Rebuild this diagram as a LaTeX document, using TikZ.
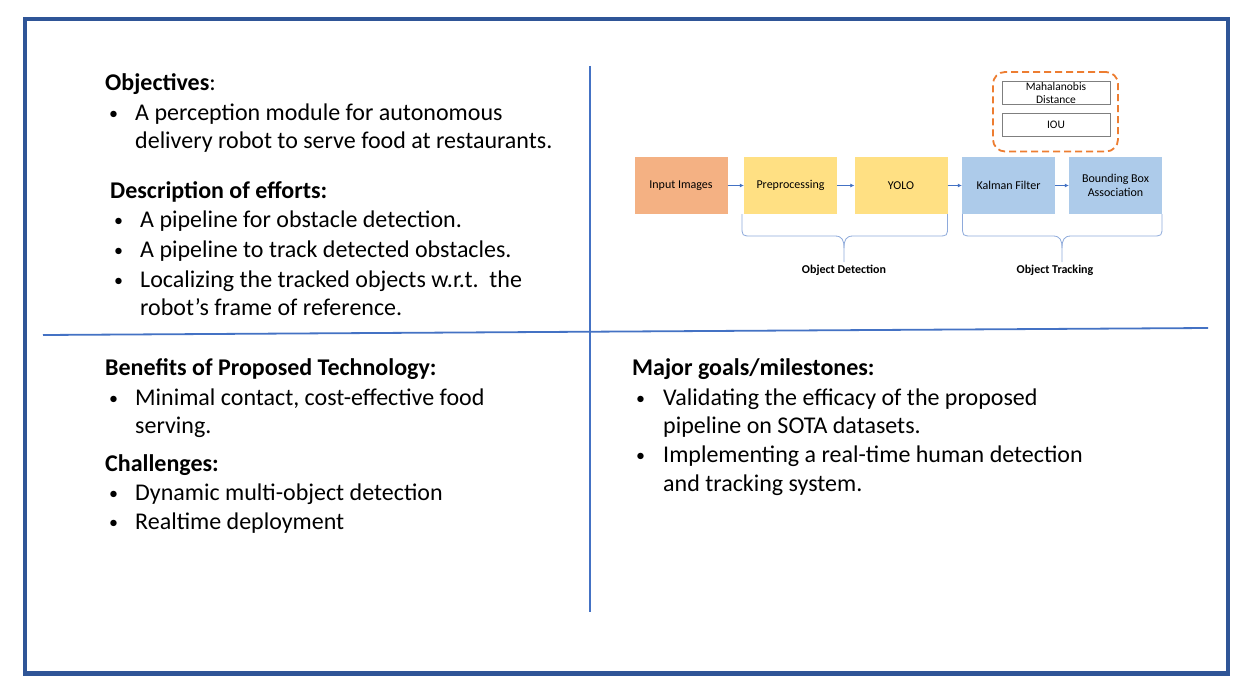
\documentclass[tikz,border=0pt]{standalone}
\usepackage{fontspec}
\setmainfont{Carlito}
\usetikzlibrary{arrows.meta}
\definecolor{frameblue}{HTML}{2F5597}
\definecolor{lineblue}{HTML}{4472C4}
\definecolor{orangefill}{HTML}{F4B183}
\definecolor{yellowfill}{HTML}{FFE083}
\definecolor{bluefill}{HTML}{ADCBEA}
\definecolor{dashorange}{HTML}{ED7D31}
\definecolor{bracecol}{HTML}{8EAADB}
\definecolor{boxgray}{HTML}{7F7F7F}
\newcommand\mybrace[3]{%
  \draw[bracestyle] (#1,214) -- (#1,226) .. controls (#1,236) .. (#1+10,236)
     -- (#3-9,236) .. controls (#3-2,236) and (#3,240) .. (#3,248) -- (#3,262);
  \draw[bracestyle] (#2,214) -- (#2,226) .. controls (#2,236) .. (#2-10,236)
     -- (#3+9,236) .. controls (#3+2,236) and (#3,240) .. (#3,248);
}
\begin{document}
\begin{tikzpicture}[x=1pt,y=-1pt,
  body/.style={anchor=base west, inner sep=0pt, font=\fontsize{24}{28}\selectfont},
  bul/.style={anchor=base west, inner sep=0pt, font=\fontsize{18}{20}\selectfont},
  head/.style={anchor=base west, inner sep=0pt, font=\fontsize{24}{28}\selectfont\bfseries},
  stage/.style={minimum width=93pt, minimum height=57pt, inner sep=0pt, align=center,
                font=\fontsize{12}{14.5}\selectfont},
  subbox/.style={draw=boxgray, line width=0.8pt, fill=white, minimum width=108pt,
                 inner sep=0pt, align=center, font=\fontsize{11.5}{14.5}\selectfont},
  arr/.style={draw=lineblue, line width=0.7pt, -{Latex[length=4pt,width=4pt]}},
  bracestyle/.style={draw=bracecol, line width=0.8pt},
  divider/.style={draw=lineblue, line width=1.8pt},
  grouplabel/.style={anchor=base, inner sep=0pt, font=\fontsize{12}{14}\selectfont\bfseries}
]
\useasboundingbox (0,0) rectangle (1245,693);
\fill[white] (0,0) rectangle (1245,693);
\draw[frameblue, line width=4.5pt] (25,19) rectangle (1228,673.5);

% dividers
\draw[divider] (590,66) -- (590,612);
\draw[divider] (43,335) -- (1208,328);

% upper left text
\node[head] (obj) at (105,91) {Objectives\textmd{:}};
\node[bul] (b1) at (109,119) {•};
\node[body] (t1) at (135,120) {A perception module for autonomous};
\node[body] (t1b) at (135,148) {delivery robot to serve food at restaurants.};
\node[head] (desc) at (110,198.5) {Description of efforts:};
\node[bul] (b2) at (114,226.5) {•};
\node[body] (t2) at (140,227.5) {A pipeline for obstacle detection.};
\node[bul] (b3) at (114,256.5) {•};
\node[body] (t3) at (140,257.5) {A pipeline to track detected obstacles.};
\node[bul] (b4) at (114,286) {•};
\node[body] (t4) at (140,287) {Localizing the tracked objects w.r.t.\ \ the};
\node[body] (t4b) at (140,315) {robot’s frame of reference.};

% lower left text
\node[head] (ben) at (105,375) {Benefits of Proposed Technology:};
\node[bul] (b5) at (109,404) {•};
\node[body] (t5) at (135,405) {Minimal contact, cost-effective food};
\node[body] (t5b) at (135,433) {serving.};
\node[head] (chal) at (105,471) {Challenges:};
\node[bul] (b6) at (109,499) {•};
\node[body] (t6) at (135,500) {Dynamic multi-object detection};
\node[bul] (b7) at (109,528) {•};
\node[body] (t7) at (135,529) {Realtime deployment};

% lower right text
\node[head] (maj) at (632,375) {Major goals/milestones:};
\node[bul] (b8) at (636,404) {•};
\node[body] (t8) at (663,405) {Validating the efficacy of the proposed};
\node[body] (t8b) at (663,433) {pipeline on SOTA datasets.};
\node[bul] (b9) at (636,461) {•};
\node[body] (t9) at (663,462) {Implementing a real-time human detection};
\node[body] (t9b) at (663,491) {and tracking system.};

% pipeline
\node[stage, fill=orangefill] (inp) at (681,185.5) {Input Images};
\node[stage, fill=yellowfill] (pre) at (790.5,185.5) {Preprocessing};
\node[stage, fill=yellowfill] (yolo) at (901,185.5) {YOLO};
\node[stage, fill=bluefill] (kal) at (1008.5,185.5) {Kalman Filter};
\node[stage, fill=bluefill] (bba) at (1115.5,185.5) {Bounding Box\\Association};
\draw[arr] (inp) -- (pre);
\draw[arr] (pre) -- (yolo);
\draw[arr] (yolo) -- (kal);
\draw[arr] (kal) -- (bba);

% association metrics
\node[draw=dashorange, line width=1.8pt, dash pattern=on 7pt off 4pt, rounded corners=12pt,
      minimum width=125pt, minimum height=79.5pt, inner sep=0pt] (metrics) at (1055.5,111.75) {};
\node[subbox, minimum height=22.5pt] (maha) at (1056,93) {Mahalanobis\\[-1.5pt]Distance};
\node[subbox, minimum height=23pt] (iou) at (1056,124.5) {IOU};

% braces
\mybrace{742}{947.5}{844}
\mybrace{962.5}{1162}{1062}
\node[grouplabel] (odl) at (844,273) {Object Detection};
\node[grouplabel] (otl) at (1055,273) {Object Tracking};
\end{tikzpicture}
\end{document}
